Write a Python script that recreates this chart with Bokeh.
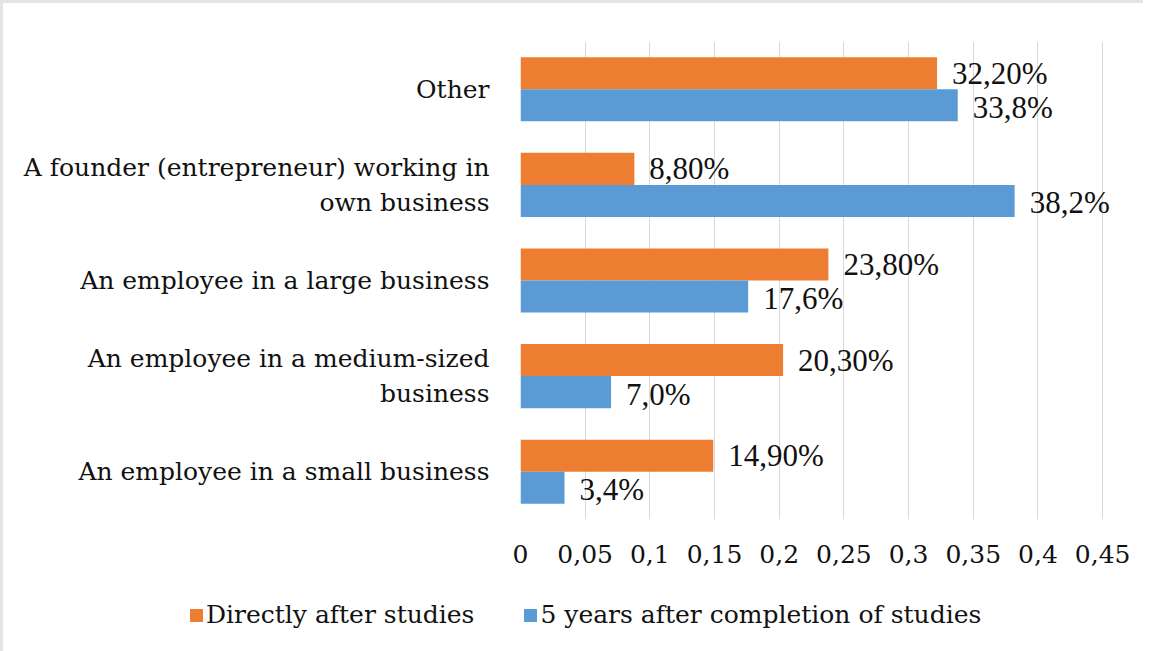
from bokeh.plotting import figure
from bokeh.layouts import column
from bokeh.models import (ColumnDataSource, FactorRange, Range1d, FixedTicker,
                          LabelSet, Div)
from bokeh.transform import dodge
from bokeh.embed import file_html
from bokeh.resources import INLINE

# ---- data (top-to-bottom as in the chart) ----
categories = [
    "Other",
    "A founder (entrepreneur) working in\nown business",
    "An employee in a large business",
    "An employee in a medium-sized\nbusiness",
    "An employee in a small business",
]
directly_after = [0.322, 0.088, 0.238, 0.203, 0.149]
five_years_after = [0.338, 0.382, 0.176, 0.070, 0.034]
series_names = ["Directly after studies", "5 years after completion of studies"]
x_ticks = [0, 0.05, 0.1, 0.15, 0.2, 0.25, 0.3, 0.35, 0.4, 0.45]
x_tick_labels = ["0", "0,05", "0,1", "0,15", "0,2", "0,25", "0,3", "0,35", "0,4", "0,45"]

ORANGE = "#ED7D31"
BLUE = "#5B9BD5"
FONT = "DejaVu Serif"
TXT = "#111111"

def fmt(v, d):
    return (f"{v*100:.{d}f}%").replace(".", ",")

src = ColumnDataSource(dict(
    cat=categories,
    a=directly_after,
    b=five_years_after,
    a_lbl=[fmt(v, 2) for v in directly_after],
    b_lbl=[fmt(v, 1) for v in five_years_after],
))

factors = list(reversed(categories))

p = figure(
    width=1130, height=576,
    y_range=FactorRange(*factors, range_padding=0),
    x_range=Range1d(0, 0.47),
    output_backend="svg", toolbar_location=None,
    min_border_left=517, min_border_right=5, min_border_top=38, min_border_bottom=60,
)

bh = 0.335
ra = p.hbar(y=dodge("cat", bh / 2, range=p.y_range), right="a", left=0, height=bh,
            source=src, fill_color=ORANGE, line_color=None)
rb = p.hbar(y=dodge("cat", -bh / 2, range=p.y_range), right="b", left=0, height=bh,
            source=src, fill_color=BLUE, line_color=None)

la = LabelSet(x="a", y=dodge("cat", bh / 2, range=p.y_range), text="a_lbl", source=src,
              x_offset=15, text_baseline="middle", text_font=FONT,
              text_font_size="31px", text_color=TXT)
lb = LabelSet(x="b", y=dodge("cat", -bh / 2, range=p.y_range), text="b_lbl", source=src,
              x_offset=15, y_offset=-2, text_baseline="middle", text_font=FONT,
              text_font_size="31px", text_color=TXT)
p.add_layout(la)
p.add_layout(lb)

# axes
p.xaxis.ticker = FixedTicker(ticks=x_ticks)
p.xaxis.major_label_overrides = {t: l for t, l in zip(x_ticks, x_tick_labels)}
for ax in (p.xaxis, p.yaxis):
    ax.axis_line_color = None
    ax.major_tick_line_color = None
    ax.minor_tick_line_color = None
    ax.major_label_text_font = FONT
    ax.major_label_text_color = TXT
p.xaxis.major_label_text_font_size = "25px"
p.yaxis.major_label_text_font_size = "25px"
p.xaxis.major_label_standoff = 19
p.yaxis.major_label_standoff = 25

p.xgrid.ticker = FixedTicker(ticks=x_ticks)
p.xgrid.grid_line_color = "#d9d9d9"
p.ygrid.grid_line_color = None
p.outline_line_color = None

# ---- legend strip ----
def sw(color, ml):
    return (f'<span style="display:inline-block;width:13px;height:13px;background:{color};'
            f'margin-left:{ml}px;margin-right:3px"></span>')

legend_html = (
    f'<div style="font-family:DejaVu Serif;font-size:25px;'
    f'color:{TXT};display:flex;align-items:center;height:62px;padding-left:182px;white-space:nowrap">'
    + sw(ORANGE, 0) + f'<span>{series_names[0]}</span>'
    + sw(BLUE, 50) + f'<span>{series_names[1]}</span></div>'
)
lg = Div(text=legend_html, width=1130, height=62)

layout = column(p, lg, spacing=0)
layout.styles = {"border-left": "3px solid #e4e4e4", "border-top": "3px solid #e4e4e4"}

open("out.html", "w").write(file_html(layout, INLINE))
